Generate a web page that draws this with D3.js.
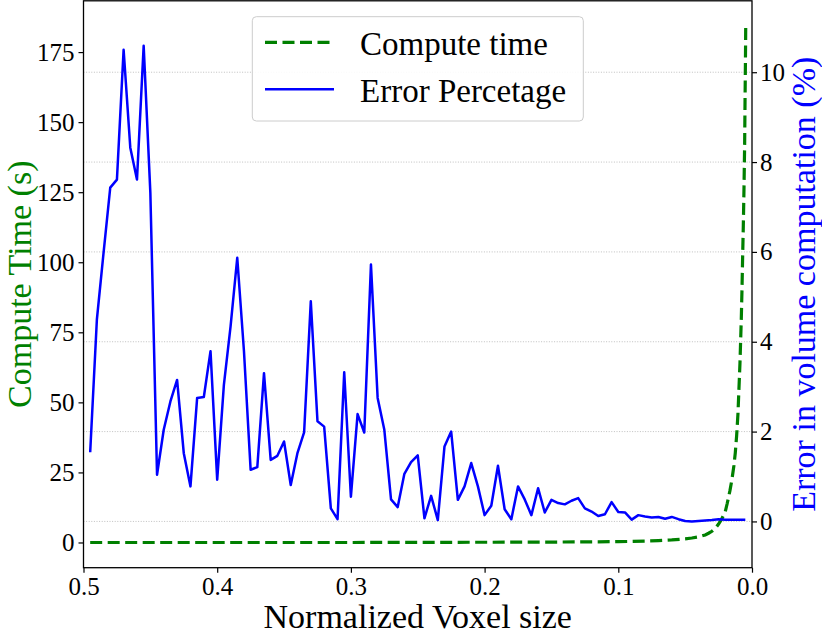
<!DOCTYPE html>
<html><head><meta charset="utf-8">
<script src="https://cdn.jsdelivr.net/npm/d3@7/dist/d3.min.js"></script>
<style>body{margin:0;background:#fff} svg{display:block}</style>
</head><body><svg id="c" width="822" height="636"></svg>
<script>
const voxelSize = [0.495,0.49,0.485,0.48,0.475,0.47,0.465,0.46,0.455,0.45,0.445,0.44,0.435,0.43,0.425,0.42,0.415,0.41,0.405,0.4,
0.395,0.39,0.385,0.38,0.375,0.37,0.365,0.36,0.355,0.35,0.345,0.34,0.335,0.33,0.325,0.32,0.315,0.31,0.305,0.3,
0.295,0.29,0.285,0.28,0.275,0.27,0.265,0.26,0.255,0.25,0.245,0.24,0.235,0.23,0.225,0.22,0.215,0.21,0.205,0.2,
0.195,0.19,0.185,0.18,0.175,0.17,0.165,0.16,0.155,0.15,0.145,0.14,0.135,0.13,0.125,0.12,0.115,0.11,0.105,0.1,
0.095,0.09,0.085,0.08,0.075,0.07,0.065,0.06,0.055,0.05,0.045,0.04,0.035,0.03,0.025,0.02,0.015,0.01,0.005];
const errorPct = [1.54,4.49,5.98,7.43,7.61,10.50,8.32,7.61,10.59,7.32,1.04,2.04,2.67,3.15,1.52,0.78,2.75,2.77,3.79,0.93,
3.04,4.34,5.87,3.8,1.15,1.21,3.30,1.37,1.46,1.78,0.81,1.52,1.98,4.90,2.23,2.11,0.29,0.05,3.32,0.55,
2.39,1.98,5.72,2.75,2.04,0.49,0.32,1.06,1.32,1.47,0.07,0.57,0.03,1.67,2.00,0.48,0.78,1.30,0.78,0.14,
0.35,1.24,0.27,0.05,0.78,0.49,0.14,0.74,0.20,0.48,0.41,0.38,0.46,0.52,0.29,0.22,0.12,0.16,0.43,0.21,
0.20,0.04,0.14,0.11,0.09,0.10,0.06,0.10,0.05,0.01,0.00,0.01,0.02,0.03,0.05,0.04,0.04,0.04,0.04];
const timeVoxel = [0.495,0.45,0.4,0.35,0.3,0.25,0.2,0.15,0.12,0.1,0.09,0.08,0.07,0.06,0.05,0.045,0.04,0.035,0.0325,0.03,
0.0275,0.025,0.0225,0.02,0.0185,0.0165,0.015,0.0135,0.0125,0.0115,0.0105,0.01,0.009,0.008,0.0075,0.007,0.0065,0.006,0.0055,0.0052,0.0049,0.0047];
const computeTime = [0,0,0,0,0,0.05,0.08,0.15,0.22,0.3,0.38,0.5,0.65,0.9,1.3,1.6,2.0,2.7,3.3,4.0,
5.0,6.6,8.5,11.0,14.0,18.5,22.5,27.5,32,38,46,52,64,80,90,102,113,126,142,158,172,184];
const xTicks = [0.5,0.4,0.3,0.2,0.1,0.0];
const leftTicks = [0,25,50,75,100,125,150,175];
const rightTicks = [0,2,4,6,8,10];
const legendLabels = ["Compute time","Error Percetage"];

const L=83.5, R=752, T=0.8, B=567.7;
const FONT = "'Liberation Serif','Times New Roman',serif";
const svg = d3.select("#c");
const x = d3.scaleLinear().domain([0.5,0.0]).range([L,R]);
const yL = d3.scaleLinear().domain([-9.0,193.3]).range([B,T]);
const yR = d3.scaleLinear().domain([-1.03,11.59]).range([B,T]);

// grid (right axis ticks)
svg.append("g").selectAll("line").data(rightTicks).join("line")
  .attr("x1",L).attr("x2",R).attr("y1",d=>yR(d)).attr("y2",d=>yR(d))
  .attr("stroke","#b0b0b0").attr("stroke-width",0.8).attr("stroke-dasharray","1,1.6");

// compute time
svg.append("path").datum(timeVoxel.map((v,i)=>[v,computeTime[i]]))
  .attr("fill","none").attr("stroke","#008000").attr("stroke-width",3.2)
  .attr("stroke-dasharray","12,5.5")
  .attr("d",d3.line().x(d=>x(d[0])).y(d=>yL(d[1])));

// error
svg.append("path").datum(voxelSize.map((v,i)=>[v,errorPct[i]]))
  .attr("fill","none").attr("stroke","#0000ff").attr("stroke-width",2.5)
  .attr("stroke-linejoin","round")
  .attr("d",d3.line().x(d=>x(d[0])).y(d=>yR(d[1])));

// frame
svg.append("rect").attr("x",L).attr("y",T).attr("width",R-L).attr("height",B-T)
  .attr("fill","none").attr("stroke","#000").attr("stroke-width",1.3);

function styleAxis(g){
  g.select(".domain").remove();
  g.selectAll(".tick line").attr("stroke","#000").attr("stroke-width",1.2);
  g.selectAll(".tick text").attr("font-family",FONT).attr("font-size","25px").attr("fill","#000");
}
svg.append("g").attr("transform",`translate(0,${B})`)
  .call(d3.axisBottom(x).tickValues(xTicks).tickFormat(d3.format(".1f")).tickSize(5).tickPadding(5))
  .call(styleAxis);
svg.append("g").attr("transform",`translate(${L},0)`)
  .call(d3.axisLeft(yL).tickValues(leftTicks).tickFormat(d3.format("d")).tickSize(5).tickPadding(4))
  .call(styleAxis);
svg.append("g").attr("transform",`translate(${R},0)`)
  .call(d3.axisRight(yR).tickValues(rightTicks).tickFormat(d3.format("d")).tickSize(5).tickPadding(3))
  .call(styleAxis);

// axis labels
svg.append("text").attr("x",(L+R)/2).attr("y",628).attr("text-anchor","middle")
  .attr("font-family",FONT).attr("font-size","34px").attr("fill","#000").text("Normalized Voxel size");
svg.append("text").attr("transform",`translate(31,${(T+B)/2}) rotate(-90)`).attr("text-anchor","middle")
  .attr("font-family",FONT).attr("font-size","34px").attr("fill","#008000").text("Compute Time (s)");
svg.append("text").attr("transform",`translate(815,${(T+B)/2}) rotate(-90)`).attr("text-anchor","middle")
  .attr("font-family",FONT).attr("font-size","34px").attr("fill","#0000ff").text("Error in volume computation (%)");

// legend
const lg = svg.append("g");
lg.append("rect").attr("x",252.3).attr("y",16.7).attr("width",331).attr("height",104.3).attr("rx",4)
  .attr("fill","#fff").attr("fill-opacity",0.9).attr("stroke","#cccccc").attr("stroke-width",1);
lg.append("line").attr("x1",265).attr("x2",333).attr("y1",42.3).attr("y2",42.3)
  .attr("stroke","#008000").attr("stroke-width",3.2).attr("stroke-dasharray","12,5.5");
lg.append("line").attr("x1",265).attr("x2",334).attr("y1",89.3).attr("y2",89.3)
  .attr("stroke","#0000ff").attr("stroke-width",2.5);
lg.selectAll("text").data(legendLabels).join("text")
  .attr("x",360).attr("y",(d,i)=>i?101.7:55).attr("font-family",FONT).attr("font-size","33px").attr("fill","#000").text(d=>d);
</script></body></html>
